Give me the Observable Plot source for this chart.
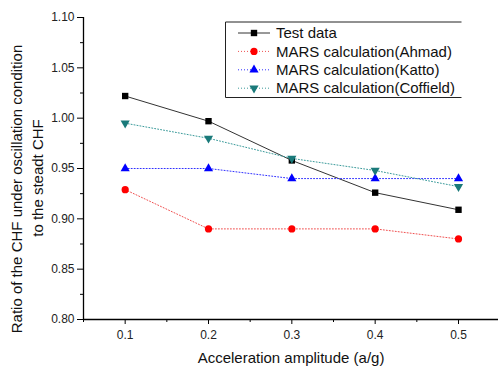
<!DOCTYPE html>
<html>
<head>
<meta charset="utf-8">
<script src="https://cdn.jsdelivr.net/npm/d3@7"></script>
<script src="https://cdn.jsdelivr.net/npm/@observablehq/plot@0.6"></script>
<style>
  body { margin: 0; background: #fff; }
  svg { font-family: "Liberation Sans", Arial, sans-serif; }
</style>
</head>
<body>
<div id="chart"></div>
<script>
const amplitude = [0.1, 0.2, 0.3, 0.4, 0.5];
const testData = [1.022, 0.997, 0.958, 0.926, 0.909];
const ahmad = [0.929, 0.890, 0.890, 0.890, 0.880];
const katto = [0.950, 0.950, 0.940, 0.940, 0.940];
const coffield = [0.995, 0.980, 0.960, 0.948, 0.932];
const seriesNames = ["Test data", "MARS calculation(Ahmad)", "MARS calculation(Katto)", "MARS calculation(Coffield)"];
const yTicks = [0.80, 0.85, 0.90, 0.95, 1.00, 1.05, 1.10];
const xTicks = [0.1, 0.2, 0.3, 0.4, 0.5];
const yTitle = ["Ratio of the CHF under oscillation condition", "to the steadt CHF"];
const xTitle = "Acceleration amplitude (a/g)";

const triDown = {
  draw(c, size) {
    const y = -Math.sqrt(size / (Math.sqrt(3) * 3));
    c.moveTo(0, -y * 2);
    c.lineTo(-Math.sqrt(3) * y, y);
    c.lineTo(Math.sqrt(3) * y, y);
    c.closePath();
  }
};

const styles = [
  {values: testData, stroke: "#333", fill: "#000", symbol: "square", r: 3.6, dash: null},
  {values: ahmad, stroke: "#f05050", fill: "#ff0000", symbol: "circle", r: 3.6, dash: "1,2"},
  {values: katto, stroke: "#3030ff", fill: "#0000ff", symbol: "triangle", r: 3.4, dash: "1,2"},
  {values: coffield, stroke: "#3a9a9a", fill: "#1a7a7a", symbol: triDown, r: 3.4, dash: "1,2"}
];

const rows = [];
styles.forEach((s, i) => s.values.forEach((v, j) => rows.push({series: seriesNames[i], x: amplitude[j], y: v})));

const minorY = yTicks.slice(0, -1).map(t => t + 0.025);
const minorX = [0.05, ...xTicks.map(t => t + 0.05)].filter(t => t < 0.548);

const marks = [
  Plot.ruleX([0.05], {stroke: "#000", strokeWidth: 1.3}),
  Plot.ruleY([0.80], {stroke: "#000", strokeWidth: 1.3}),
  Plot.axisY({ticks: yTicks, tickFormat: d3.format(".2f"), tickSize: 6, tickPadding: 3, fontSize: 12, fill: "#222", label: null, stroke: "#000"}),
  Plot.axisY({ticks: minorY, tickSize: 3, text: null, label: null, stroke: "#000"}),
  Plot.axisX({ticks: xTicks, tickFormat: d3.format(".1f"), tickSize: 5, tickPadding: 6, fontSize: 12, fill: "#222", label: null, stroke: "#000"}),
  Plot.axisX({ticks: minorX, tickSize: 3, text: null, label: null, stroke: "#000"}),
  Plot.text([xTitle], {frameAnchor: "bottom", lineAnchor: "middle", dy: 38.5, fontSize: 15, fill: "#111"})
];

styles.forEach((s, i) => {
  const data = rows.filter(d => d.series === seriesNames[i]);
  marks.push(Plot.line(data, {x: "x", y: "y", stroke: s.stroke, strokeWidth: 1, strokeDasharray: s.dash}));
  marks.push(Plot.dot(data, {x: "x", y: "y", symbol: () => s.symbol, r: s.r, fill: s.fill, stroke: "none"}));
});

const chart = Plot.plot({
  width: 498,
  height: 367,
  marginLeft: 83,
  marginRight: 0,
  marginTop: 17,
  marginBottom: 48,
  style: {fontFamily: "'Liberation Sans', Arial, sans-serif", background: "#fff", overflow: "visible"},
  x: {domain: [0.05, 0.548], axis: null},
  y: {domain: [0.80, 1.10], axis: null},
  symbol: {type: "identity"},
  marks
});

const svg = d3.select(chart);

// y-axis title (two lines, rotated)
const yt = svg.append("g").attr("font-family", "'Liberation Sans', Arial, sans-serif")
  .attr("text-anchor", "middle").attr("font-size", 15).attr("fill", "#111");
[[16.5, 189], [38, 178]].forEach(([tx, ty], i) => {
  yt.append("text").attr("transform", `translate(${tx},${ty}) rotate(-90)`)
    .attr("dy", "0.35em").text(yTitle[i]);
});

// legend
const lg = svg.append("g").attr("font-family", "'Liberation Sans', Arial, sans-serif").attr("text-anchor", "start");
const bx = 225.5, by = 22, bw = 236, bh = 75.5;
lg.append("line").attr("x1", bx).attr("x2", bx + bw).attr("y1", by).attr("y2", by).attr("stroke", "#222");
lg.append("line").attr("x1", bx).attr("x2", bx + bw).attr("y1", by + bh).attr("y2", by + bh).attr("stroke", "#222");
lg.append("line").attr("x1", bx).attr("x2", bx).attr("y1", by).attr("y2", by + bh).attr("stroke", "#222");
styles.forEach((s, i) => {
  const yy = 33 + i * 18.4;
  lg.append("line").attr("x1", 238).attr("x2", 270).attr("y1", yy).attr("y2", yy)
    .attr("stroke", s.stroke).attr("stroke-dasharray", s.dash);
  const sym = typeof s.symbol === "string" ? ({square: d3.symbolSquare, circle: d3.symbolCircle, triangle: d3.symbolTriangle})[s.symbol] : s.symbol;
  lg.append("path").attr("transform", `translate(254,${yy})`)
    .attr("d", d3.symbol(sym, Math.PI * s.r * s.r)()).attr("fill", s.fill);
  lg.append("text").attr("x", 276).attr("y", yy).attr("dy", "0.35em")
    .attr("font-size", 15).attr("fill", "#111").text(seriesNames[i]);
});

document.getElementById("chart").appendChild(chart);
</script>
</body>
</html>
